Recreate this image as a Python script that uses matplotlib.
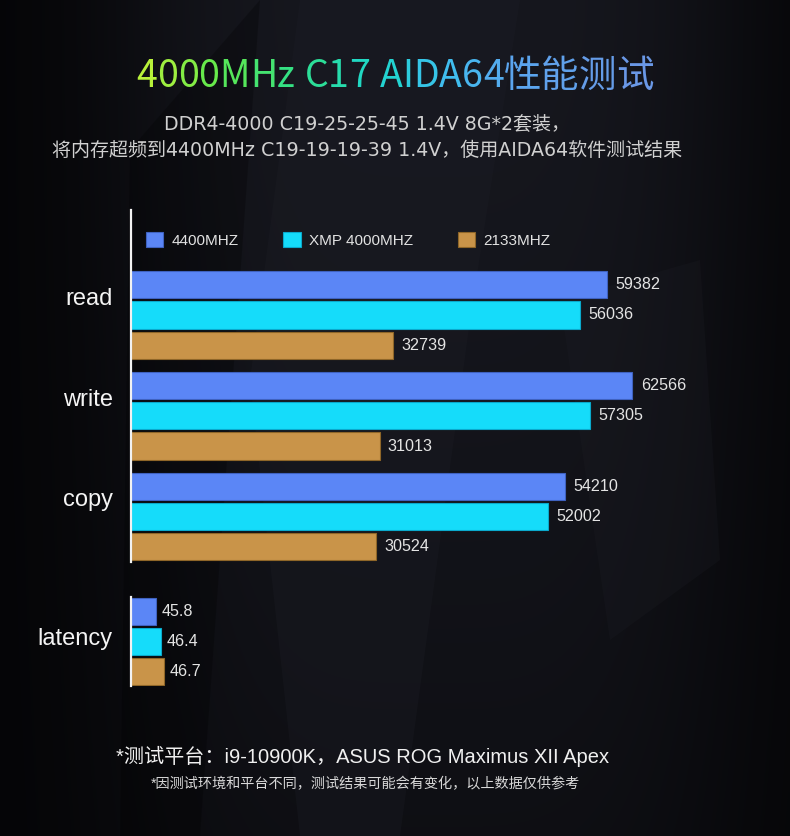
import matplotlib
matplotlib.use('Agg')
import matplotlib.pyplot as plt
from matplotlib.patches import Polygon
import matplotlib.colors as mcolors
import numpy as np

# ---------------- data ----------------
categories = ['read', 'write', 'copy']
series = ['4400MHZ', 'XMP 4000MHZ', '2133MHZ']
bw_4400 = [59382, 62566, 54210]
bw_xmp4000 = [56036, 57305, 52002]
bw_2133 = [32739, 31013, 30524]
latency_label = 'latency'
latency_values = [45.8, 46.4, 46.7]
latency_labels = ['45.8', '46.4', '46.7']

title_words = ['4000MHz', 'C17', 'AIDA64性能测试']
subtitle_1 = 'DDR4-4000 C19-25-25-45 1.4V 8G*2套装，'
subtitle_2 = '将内存超频到4400MHz C19-19-19-39 1.4V，使用AIDA64软件测试结果'
footer_1 = '*测试平台：i9-10900K，ASUS ROG Maximus XII Apex'
footer_2 = '*因测试环境和平台不同，测试结果可能会有变化，以上数据仅供参考'

# ---------------- style ----------------
colors = ['#5b86f6', '#15dcfa', '#c99449']
edges = ['#3f62c0', '#0aa9cc', '#8f6628']
title_stops = ['#b8f23a', '#62e84c', '#2fe08a', '#1fd6cc', '#3cc0ee', '#5aa6ee', '#6a98e6']
LATIN_CJK = ['Liberation Sans', 'Noto Sans CJK SC', 'DejaVu Sans']
WIDE_CJK = ['DejaVu Sans', 'Noto Sans CJK SC']

plt.rcParams['font.family'] = ['Noto Sans CJK SC', 'DejaVu Sans']
W, H = 790, 836
fig = plt.figure(figsize=(W / 100, H / 100), dpi=100)
fig.patch.set_facecolor('#08080a')


def fx(px):
    return px / W


def fy(py):
    return 1 - py / H


# background: soft dark-grey glow with faint facets
bg = fig.add_axes([0, 0, 1, 1], zorder=-10)
bg.set_xlim(0, W)
bg.set_ylim(H, 0)
bg.axis('off')
gx, gy = np.meshgrid(np.linspace(0, W, 200), np.linspace(0, H, 200))
w = np.exp(-((gx - 430) / 320) ** 4) * (1 - 0.45 * (gy / H) ** 1.5)
base = np.array(mcolors.to_rgb('#050507'))
light = np.array(mcolors.to_rgb('#16171e'))
img = base + (light - base) * w[..., None]
bg.imshow(img, extent=(0, W, H, 0), aspect='auto', interpolation='bilinear', zorder=0)
facets = [
    ([(300, 0), (520, 0), (470, 320), (400, 836), (300, 836), (250, 380)], '#1e1f27', 0.3),
    ([(560, 300), (700, 260), (720, 560), (610, 640)], '#1e1f26', 0.25),
    ([(130, 150), (260, 0), (200, 836), (120, 836)], '#000000', 0.25),
]
for pts, c, a in facets:
    bg.add_patch(Polygon(pts, closed=True, facecolor=c, edgecolor='none', alpha=a, zorder=1))

# ---------------- main axes ----------------
ax = fig.add_axes([fx(131), fy(562), fx(700) - fx(131), (562 - 210) / H])
ax.set_facecolor('none')
y = np.arange(len(categories))
off, h = 0.30, 0.27
for k, vals in enumerate([bw_4400, bw_xmp4000, bw_2133]):
    bars = ax.barh(y + (k - 1) * off, vals, height=h, color=colors[k],
                   edgecolor=edges[k], linewidth=0.8, label=series[k])
    ax.bar_label(bars, labels=[str(v) for v in vals], padding=6,
                 color='#e4e4e4', fontsize=11.6, family=['Liberation Sans'])
ax.set_xlim(0, 71000)
ax.set_ylim(2.45, -1.04)
for s in ['top', 'right', 'bottom']:
    ax.spines[s].set_visible(False)
ax.spines['left'].set_color('#f2f2f2')
ax.spines['left'].set_linewidth(1.6)
ax.tick_params(left=False, bottom=False, labelleft=False, labelbottom=False)
for i, cat in enumerate(categories):
    ax.text(-0.032, i - 0.16, cat, transform=ax.get_yaxis_transform(), ha='right',
            va='center', fontsize=17, color='#f4f4f4', family=['Liberation Sans'])

leg = ax.legend(loc='center left', bbox_to_anchor=(0.026, 0.915), ncol=3, frameon=False,
                handlelength=1.15, handleheight=1.15, handletextpad=0.55, columnspacing=2.9,
                borderpad=0, borderaxespad=0, prop=dict(size=11, family=['Liberation Sans']))
for t in leg.get_texts():
    t.set_color('#e2e2e2')

# ---------------- latency axes ----------------
ax2 = fig.add_axes([fx(131), fy(686), fx(700) - fx(131), (686 - 597) / H])
ax2.set_facecolor('none')
yl = np.arange(len(latency_values))
lbars = ax2.barh(yl, latency_values, height=0.9, color=colors, edgecolor=edges, linewidth=0.8)
ax2.bar_label(lbars, labels=latency_labels, padding=4, color='#e4e4e4', fontsize=11.6,
              family=['Liberation Sans'])
ax2.set_xlim(43, 107)
ax2.set_ylim(2.5, -0.5)
for s in ['top', 'right', 'bottom']:
    ax2.spines[s].set_visible(False)
ax2.spines['left'].set_color('#f2f2f2')
ax2.spines['left'].set_linewidth(1.6)
ax2.tick_params(left=False, bottom=False, labelleft=False, labelbottom=False)
ax2.text(-0.032, 0.9, latency_label, transform=ax2.get_yaxis_transform(), ha='right',
         va='center', fontsize=17, color='#f4f4f4', family=['Liberation Sans'])

# ---------------- gradient title ----------------
cmap = mcolors.LinearSegmentedColormap.from_list('title', title_stops)
chars = [(ch, wi > 0 and ci == 0) for wi, w_ in enumerate(title_words) for ci, ch in enumerate(w_)]
n = len(chars)
prev = None
for idx, (ch, gap) in enumerate(chars):
    col = cmap(idx / (n - 1))
    if prev is None:
        prev = fig.text(fx(136), fy(87), ch, fontsize=27, color=col, ha='left', va='baseline')
    else:
        prev = bg.annotate(ch, xy=(1, 0), xycoords=prev, xytext=(7 if gap else 0, 0),
                           textcoords='offset points', ha='left', va='bottom',
                           fontsize=27, color=col)

# ---------------- subtitle / footer ----------------
fig.text(fx(367), fy(130), subtitle_1, ha='center', va='baseline', fontsize=13.7,
         color='#d0d0d0', family=WIDE_CJK)
fig.text(fx(367), fy(156), subtitle_2, ha='center', va='baseline', fontsize=13.7,
         color='#d0d0d0', family=WIDE_CJK)
fig.text(fx(363), fy(763), footer_1, ha='center', va='baseline', fontsize=14.5,
         color='#f0f0f0', family=LATIN_CJK)
fig.text(fx(365), fy(788), footer_2, ha='center', va='baseline', fontsize=10.2,
         color='#d8d8d8', family=LATIN_CJK)

fig.savefig('out.png', dpi=100, facecolor=fig.get_facecolor())
